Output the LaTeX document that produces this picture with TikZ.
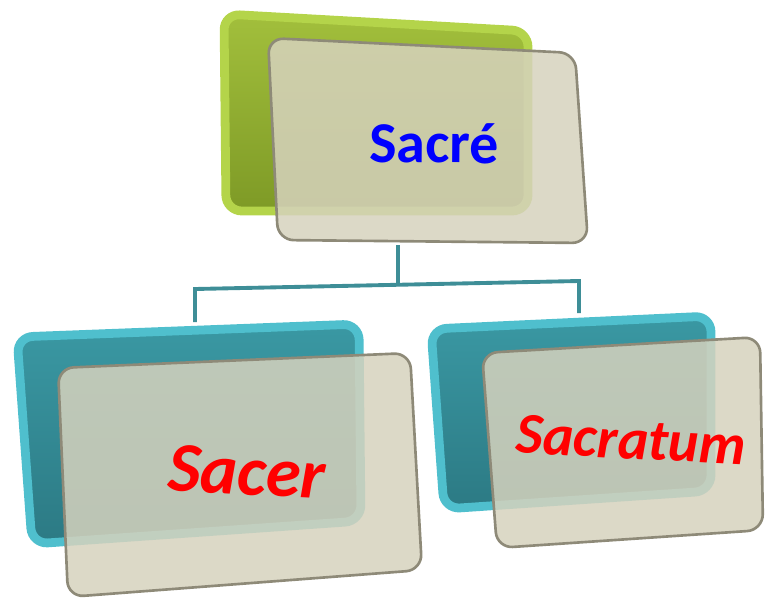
\documentclass[tikz,border=0pt]{standalone}
\usepackage{fontspec}
\setmainfont{Carlito}
\definecolor{linkteal}{HTML}{3E8E97}
\definecolor{greenrim}{HTML}{B4D44A}
\definecolor{greentop}{HTML}{A2BF3C}
\definecolor{greenbot}{HTML}{7E9A26}
\definecolor{tealrim}{HTML}{4FBFCD}
\definecolor{tealtop}{HTML}{3A98A3}
\definecolor{tealbot}{HTML}{2C7A84}
\definecolor{glassfill}{HTML}{D6D2BD}
\definecolor{glassedge}{HTML}{8E8A78}
\tikzset{
	link/.style={draw=linkteal, line width=2.2pt},
	backgreen/.style={top color=greentop, bottom color=greenbot, draw=greenrim, line width=5pt, rounded corners=9pt},
	backteal/.style={top color=tealtop, bottom color=tealbot, draw=tealrim, line width=5pt, rounded corners=9pt},
	glass/.style={fill=glassfill, fill opacity=0.85, draw=glassedge, line width=1.5pt, rounded corners=9pt},
	title/.style={text=blue, font=\fontsize{33}{33}\selectfont\bfseries},
	leaf/.style={text=red, font=\fontsize{40}{40}\selectfont\bfseries\itshape}
}
\begin{document}
\begin{tikzpicture}[x=0.02cm,y=-0.02cm]
					\useasboundingbox (0,0) rectangle (766,598);
					% connectors
					\coordinate (sacre-out) at (398,245);
					\coordinate (fork) at (398,284.8);
					\coordinate (left-turn) at (195,289);
					\coordinate (right-turn) at (579,281);
					\coordinate (sacer-in) at (195,322);
					\coordinate (sacratum-in) at (579,313);
					\draw[link] (sacre-out) -- (fork);
					\draw[link] (sacer-in) -- (left-turn) -- (right-turn) -- (sacratum-in);
					% back cards
					\shadedraw[backgreen] (224,14) -- (528,31) -- (528,211) -- (226,211) -- cycle;
					\shadedraw[backteal] (17,337) -- (359,324) -- (361,521) -- (32,544) -- cycle;
					\shadedraw[backteal] (431,329) -- (711,316) -- (711,491) -- (444,509) -- cycle;
					% front cards
					\filldraw[glass] (268,38) -- (575,53) -- (588,243) -- (278,240) -- cycle;
					\filldraw[glass] (58,368) -- (410,353) -- (422,570) -- (68,597) -- cycle;
					\filldraw[glass] (482,353) -- (760,337) -- (763,530) -- (497,548) -- cycle;
					% labels
					\node[title, rotate=-0.5] (sacre) at (434,143) {Sacré};
					\node[leaf, rotate=-3] (sacer) at (247,472) {Sacer};
					\node[leaf, rotate=-3, font=\fontsize{33}{33}\selectfont\bfseries\itshape] (sacratum) at (631,440) {Sacratum};
				\end{tikzpicture}
\end{document}
